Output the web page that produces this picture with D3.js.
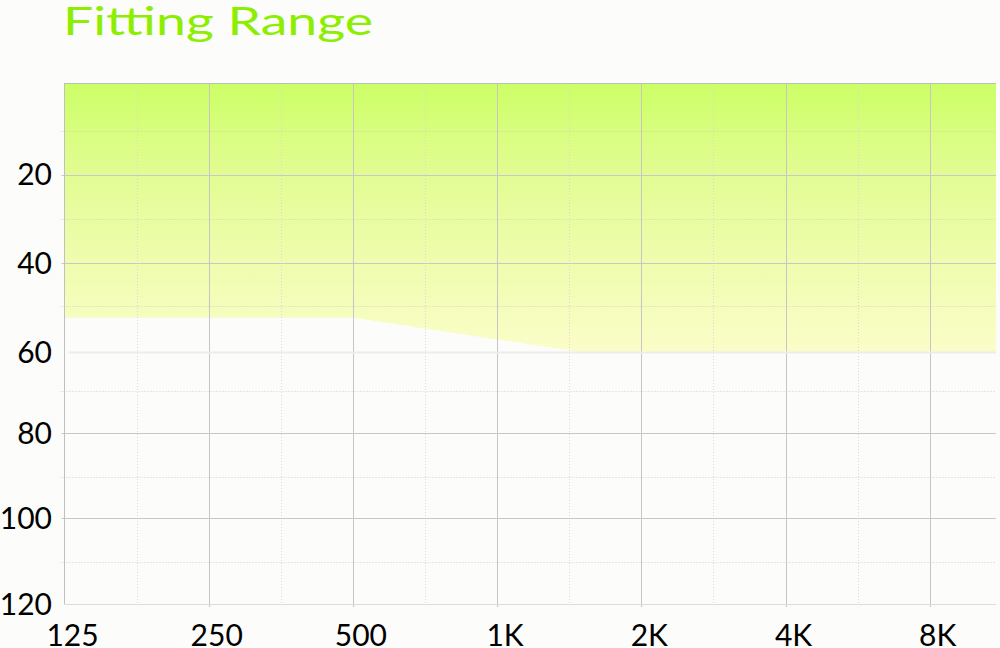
<!DOCTYPE html>
<html>
<head>
<meta charset="utf-8">
<script src="https://cdn.jsdelivr.net/npm/d3@7"></script>
<style>
  html, body { margin: 0; padding: 0; background: #fcfcfa; }
  svg { display: block; }
</style>
</head>
<body>
<div id="chart"></div>
<script>
// tick values / labels
var freqTicks = [125, 250, 500, 1000, 2000, 4000, 8000];
var freqLabels = ["125", "250", "500", "1K", "2K", "4K", "8K"];
var freqMinor = [177, 354, 707, 1414, 2828, 5657];
var levelTicks = [20, 40, 60, 80, 100, 120];
var levelMinor = [10, 30, 50, 70, 90, 110];

// fitting range boundary (dB HL)
var rangeFreq = [125, 250, 500, 1000, 1500, 2000, 4000, 8000, 11000];
var rangeLevel = [52.6, 52.6, 52.6, 57.3, 60, 60, 60, 60, 60];

var width = 1000, height = 648;
var margin = {top: 83, right: 4, bottom: 44, left: 64.5};

var svg = d3.select('#chart').append('svg')
    .attr('width', width)
    .attr('height', height);

var x = d3.scaleLog().base(2)
    .domain([125, 11000])
    .range([margin.left, width - margin.right]);

// the original grid rows are not evenly spaced, so the scale is piecewise
var y = d3.scaleLinear()
    .domain([-1, 10, 20, 30, 40, 50, 60, 70, 80, 90, 100, 110, 120])
    .range([83, 130.5, 174.5, 218.5, 263, 305.5, 352, 390.5, 433, 477, 518, 561.5, 604]);

var defs = svg.append('defs');
var grad = defs.append('linearGradient')
    .attr('id', 'fitGrad')
    .attr('gradientUnits', 'userSpaceOnUse')
    .attr('x1', 0).attr('x2', 0)
    .attr('y1', y(-1)).attr('y2', y(60));
grad.append('stop').attr('offset', '0%').attr('stop-color', '#ccff66');
grad.append('stop').attr('offset', '35%').attr('stop-color', '#e3fc95');
grad.append('stop').attr('offset', '100%').attr('stop-color', '#fbfdc8');

var rangeData = rangeFreq.map(function (f, i) { return {f: f, v: rangeLevel[i]}; });

var area = d3.area()
    .x(function (d) { return x(d.f); })
    .y0(y(-1))
    .y1(function (d) { return y(d.v); });

svg.append('path')
    .datum(rangeData)
    .attr('d', area)
    .attr('fill', 'url(#fitGrad)');

var grid = svg.append('g');

// minor (dotted) grid
grid.selectAll('.vminor').data(freqMinor).enter().append('line')
    .attr('x1', function (d) { return Math.round(x(d)) + 0.5; })
    .attr('x2', function (d) { return Math.round(x(d)) + 0.5; })
    .attr('y1', y(-1)).attr('y2', y(120))
    .attr('stroke', '#d8d8d8')
    .attr('stroke-dasharray', '1,2');

grid.selectAll('.hminor').data(levelMinor).enter().append('line')
    .attr('x1', margin.left - 4).attr('x2', width - margin.right)
    .attr('y1', function (d) { return Math.round(y(d)) + 0.5; })
    .attr('y2', function (d) { return Math.round(y(d)) + 0.5; })
    .attr('stroke', '#cfcfcf')
    .attr('stroke-dasharray', '1,2');

// major grid
grid.selectAll('.vmajor').data(freqTicks.slice(1)).enter().append('line')
    .attr('x1', function (d) { return Math.round(x(d)) + 0.5; })
    .attr('x2', function (d) { return Math.round(x(d)) + 0.5; })
    .attr('y1', y(-1)).attr('y2', y(120) + 3)
    .attr('stroke', '#c6c6c6');

grid.selectAll('.hmajor').data(levelTicks.slice(0, -1)).enter().append('line')
    .attr('x1', function (d) { return d == 60 ? margin.left + 4 : margin.left - 3; })
    .attr('x2', width - margin.right)
    .attr('y1', function (d) { return Math.round(y(d)) + 0.5; })
    .attr('y2', function (d) { return Math.round(y(d)) + 0.5; })
    .attr('stroke', function (d) { return d == 60 ? '#ececec' : '#c8c8c8'; })
    .attr('stroke-width', function (d) { return d == 60 ? 2 : 1; });

// frame
svg.append('line')
    .attr('x1', margin.left).attr('x2', width - margin.right)
    .attr('y1', margin.top + 0.5).attr('y2', margin.top + 0.5)
    .attr('stroke', '#bdbdbd');
svg.append('line')
    .attr('x1', margin.left).attr('x2', width - margin.right)
    .attr('y1', Math.round(y(120)) + 0.5).attr('y2', Math.round(y(120)) + 0.5)
    .attr('stroke', '#dcdcdc');
svg.append('line')
    .attr('x1', margin.left).attr('x2', margin.left)
    .attr('y1', margin.top).attr('y2', y(120))
    .attr('stroke', '#c0c0c0');

// tick labels
svg.append('g').selectAll('text').data(levelTicks).enter().append('text')
    .attr('x', 52)
    .attr('y', function (d) { return y(d); })
    .attr('dy', '0.36em')
    .attr('text-anchor', 'end')
    .attr('font-family', 'Lato, sans-serif')
    .attr('font-size', 30)
    .attr('fill', '#000')
    .text(function (d) { return d; });

svg.append('g').selectAll('text').data(freqTicks).enter().append('text')
    .attr('x', function (d) { return x(d) + 8; })
    .attr('y', 646)
    .attr('text-anchor', 'middle')
    .attr('font-family', 'Lato, sans-serif')
    .attr('font-size', 30)
    .attr('fill', '#000')
    .text(function (d, i) { return freqLabels[i]; });

// title
svg.append('text')
    .attr('x', 63)
    .attr('y', 35)
    .attr('font-family', 'Lato, sans-serif')
    .attr('font-size', 39)
    .attr('fill', '#8cee00')
    .attr('textLength', 310)
    .attr('lengthAdjust', 'spacingAndGlyphs')
    .text('Fitting Range');
</script>
</body>
</html>
